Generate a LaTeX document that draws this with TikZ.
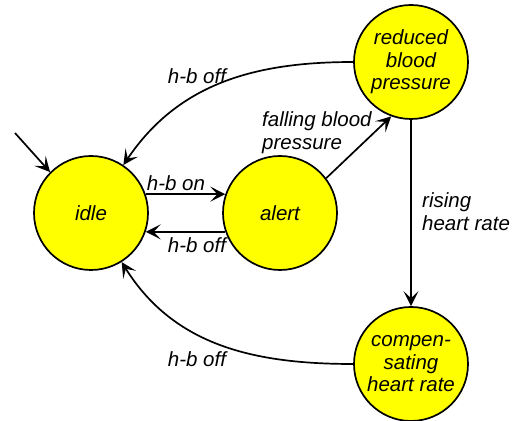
\documentclass[tikz,border=0pt]{standalone}
\usepackage{fontspec}
\setmainfont{Liberation Sans}
\usetikzlibrary{arrows.meta}
\definecolor{stateyellow}{RGB}{255,255,0}
\tikzset{
  state/.style={circle, draw=black, line width=1.7pt, fill=stateyellow, minimum size=114pt, inner sep=0pt, align=center, font=\itshape\fontsize{20.5}{22.5}\selectfont},
  trans/.style={line width=1.7pt, -{Stealth[length=15pt,width=15pt,inset=7pt]}},
  lab/.style={font=\itshape\fontsize{20.5}{23}\selectfont, inner sep=0pt, align=left}
}
\begin{document}
\begin{tikzpicture}[x=1pt,y=1pt]
\useasboundingbox (0,0) rectangle (515,421);
\node[state] (idle) at (91,208) {idle};
\node[state] (alert) at (280,208) {alert};
\node[state] (red) at (411,359) {reduced\\blood\\pressure};
\node[state] (comp) at (411,57) {compen-\\sating\\heart rate};
\coordinate (init) at (15,288);

\draw[trans] (init) -- (idle.135);
\draw[trans] (idle.19) -- (alert.161);
\draw[trans] (alert.199) -- (idle.-19);
\draw[trans] (alert.37) -- (red.250);
\draw[trans] (red.south) -- (comp.north);
\draw[trans] (red.180) to[out=180,in=56] (idle.56);
\draw[trans] (comp.180) to[out=180,in=-58] (idle.-58);

\node[lab] (l1) at (176,238) {h-b on};
\node[lab] (l2) at (197,176) {h-b off};
\node[lab] (l3) at (197,345) {h-b off};
\node[lab] (l4) at (197,62) {h-b off};
\node[lab, anchor=west] (l5) at (262,288) {falling blood\\pressure};
\node[lab, anchor=west] (l6) at (422,209) {rising\\heart rate};
\end{tikzpicture}
\end{document}
